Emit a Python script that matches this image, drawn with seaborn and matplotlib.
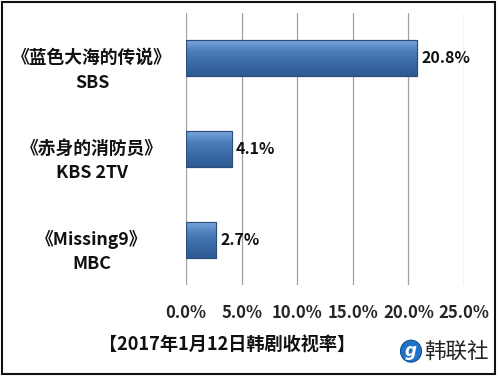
import matplotlib
matplotlib.use("Agg")
import matplotlib.pyplot as plt
import matplotlib.transforms as mtransforms
from matplotlib.patches import Rectangle, Ellipse
import numpy as np
import pandas as pd
import seaborn as sns

dramas = ["《蓝色大海的传说》", "《赤身的消防员》", "《Missing9》"]
channels = ["SBS", "KBS 2TV", "MBC"]
ratings = [20.8, 4.1, 2.7]
x_ticks = [0, 5, 10, 15, 20, 25]
title = "【2017年1月12日韩剧收视率】"

df = pd.DataFrame({"drama": dramas, "rating": ratings})

sns.set_theme(style="white")
plt.rcParams["font.family"] = ["Noto Sans CJK SC", "DejaVu Sans"]

fig = plt.figure(figsize=(5, 3.78), dpi=100)
ax = fig.add_axes([0.372, 0.246, 0.556, 0.720])

sns.barplot(data=df, x="rating", y="drama", orient="h", color="#4A7EBB",
            width=0.4, edgecolor="#2C4D7A", linewidth=0.8, ax=ax)

# vertical gradient on each bar for the glossy look
grad = np.linspace(0, 1, 100).reshape(-1, 1)
cmap = matplotlib.colors.LinearSegmentedColormap.from_list(
    "bar", ["#7FA9DE", "#4A7EBB", "#3A6AA6", "#2E5A92"])
for patch in list(ax.patches):
    x0, y0 = patch.get_x(), patch.get_y()
    w, h = patch.get_width(), patch.get_height()
    im = ax.imshow(grad, extent=[x0, x0 + w, y0 + h, y0], aspect="auto",
                   cmap=cmap, zorder=patch.get_zorder() + 0.1)
    im.set_clip_path(patch)
    edge = Rectangle((x0, y0), w, h, fill=False, edgecolor="#2C4D7A",
                     linewidth=0.8, zorder=patch.get_zorder() + 0.2)
    ax.add_patch(edge)

ax.set_xlim(0, 25)
ax.set_ylim(2.5, -0.5)
ax.set_xticks(x_ticks)
ax.set_xticklabels([f"{v:.1f}%" for v in x_ticks], fontsize=12, fontweight="bold")
ax.tick_params(axis="x", length=0, pad=14)
ax.grid(axis="x", color="#A0A0A0", linewidth=0.9)
ax.set_axisbelow(True)
for s in ax.spines.values():
    s.set_visible(False)
ax.set_xlabel("")
ax.set_ylabel("")
ax.set_yticks([])

# category labels (two lines, centred)
lab_tr = mtransforms.blended_transform_factory(fig.transFigure, ax.transData)
for i, (d, c) in enumerate(zip(dramas, channels)):
    ax.text(0.184, i, d, transform=lab_tr, ha="center", va="center",
            fontsize=12.8, fontweight="bold", color="#111111")
    ax.text(0.184, i + 0.27, c, transform=lab_tr, ha="center", va="center",
            fontsize=12.8, fontweight="bold", color="#111111")

# value labels
for i, v in enumerate(ratings):
    ax.text(v + 0.4, i, f"{v}%", ha="left", va="center",
            fontsize=11.5, fontweight="bold", color="#111111")

fig.text(0.454, 0.087, title, ha="center", va="center", fontsize=13.1,
         fontweight="bold", color="#111111")

# logo
fig.patches.append(Ellipse((0.822, 0.071), 0.042, 0.058, transform=fig.transFigure,
                           facecolor="#1F73C8", edgecolor="#0F4F96", linewidth=0.8))
fig.text(0.822, 0.071, "g", ha="center", va="center", fontsize=12, color="white",
         fontweight="bold", style="italic", family="DejaVu Sans")
fig.text(0.848, 0.069, "韩联社", ha="left", va="center", fontsize=15.5, color="#222222")

# outer frame
fig.patches.append(Rectangle((0.004, 0.011), 0.986, 0.984, transform=fig.transFigure,
                             fill=False, edgecolor="#111111", linewidth=1.5))

fig.savefig("out.png", dpi=100)
